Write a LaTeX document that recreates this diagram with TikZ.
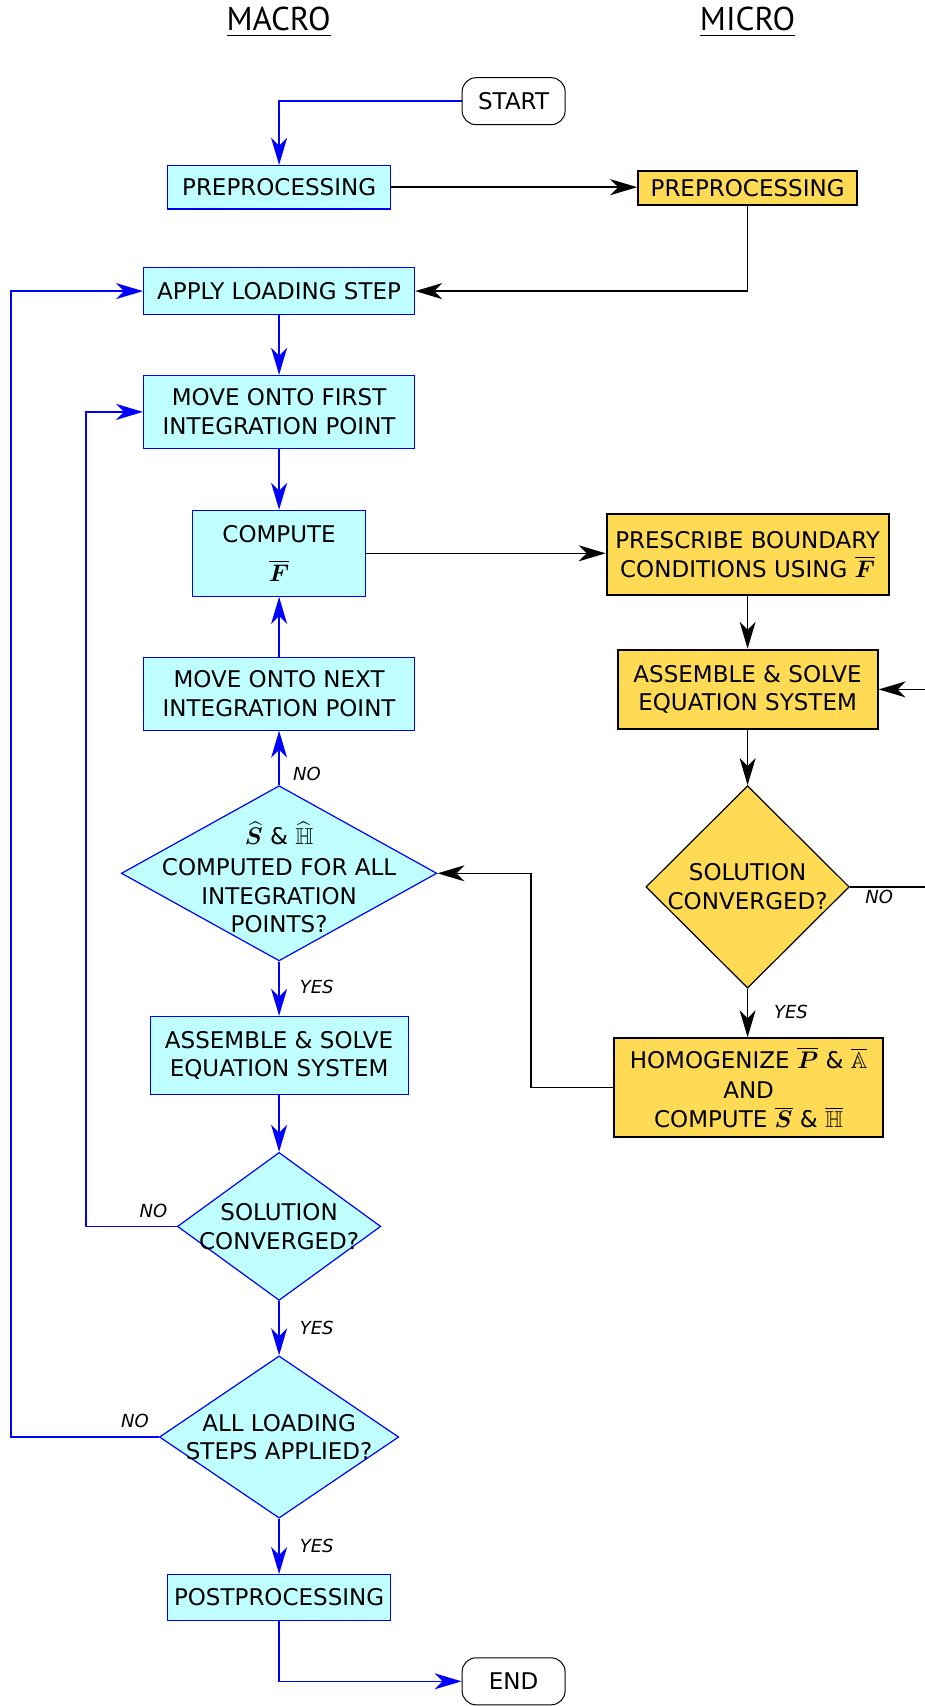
\documentclass[tikz,border=0pt]{standalone}
\usepackage{amsmath,amssymb,bm}
\usepackage{fontspec}
\setmainfont{DejaVu Sans}
\newfontfamily\titlefont{PT Sans}
\usetikzlibrary{arrows.meta,shapes.geometric}
\definecolor{cyanfill}{RGB}{191,255,255}
\definecolor{yellowfill}{RGB}{255,219,85}
\begin{document}
\begin{tikzpicture}[x=0.5pt,y=-0.5pt,
  every node/.style={font=\fontsize{11.5}{14.3}\selectfont, align=center},
  macrobox/.style={draw=blue, fill=cyanfill, line width=0.6pt, inner sep=0pt},
  microbox/.style={draw=black, fill=yellowfill, line width=1pt, inner sep=0pt},
  term/.style={draw=black, rounded corners=7pt, line width=0.5pt, inner sep=0pt, minimum width=51.5pt, minimum height=23.5pt},
  macrodia/.style={diamond, draw=blue, fill=cyanfill, line width=0.6pt, inner sep=0pt},
  microdia/.style={diamond, draw=black, fill=yellowfill, line width=0.6pt, inner sep=0pt},
  tip/.style={-{Stealth[length=13.5pt,width=8pt,inset=4pt]}},
  barr/.style={draw=blue, line width=0.75pt, tip},
  bline/.style={draw=blue, line width=0.75pt},
  karr/.style={draw=black, line width=0.75pt, tip},
  kline/.style={draw=black, line width=0.75pt},
  lab/.style={font=\fontsize{9}{10}\selectfont\itshape},
  title/.style={font=\fontsize{16.5}{18}\titlefont}
]
\useasboundingbox (0,0) rectangle (925,1706);

% titles
\node[title] (tmacro) at (278.6,22) {\underline{MACRO}};
\node[title] (tmicro) at (747.6,22) {\underline{MICRO}};

% nodes
\node[term] (start) at (513.6,101.2) {START};
\node[macrobox, minimum width=111.5pt, minimum height=21.75pt] (pre1) at (279.1,187.2) {PREPROCESSING};
\node[microbox, minimum width=109.4pt, minimum height=16.9pt] (pre2) at (747.6,187.7) {PREPROCESSING};
\node[macrobox, minimum width=135.5pt, minimum height=23.4pt] (apply) at (279.1,291.1) {APPLY LOADING STEP};
\node[macrobox, minimum width=135.5pt, minimum height=36.5pt] (first) at (279.1,411.9) {MOVE ONTO FIRST\\INTEGRATION POINT};
\node[macrobox, minimum width=86.5pt, minimum height=43pt] (comp) at (279.1,553.3) {COMPUTE\\[5pt]$\overline{\bm{F}}$};
\node[microbox, minimum width=140.9pt, minimum height=40.8pt] (pres) at (747.6,554.4) {PRESCRIBE BOUNDARY\\CONDITIONS USING $\overline{\bm{F}}$};
\node[microbox, minimum width=130pt, minimum height=39.7pt] (asm2) at (747.6,689.4) {ASSEMBLE \& SOLVE\\EQUATION SYSTEM};
\node[microdia, minimum width=101.7pt, minimum height=101.2pt] (md) at (747.6,886.9) {};
\node (mdt) at (md) {SOLUTION\\CONVERGED?};
\node[microbox, minimum width=134.4pt, minimum height=49.5pt] (hom) at (748.6,1087.7) {HOMOGENIZE $\overline{\bm{P}}$ \& $\overline{\mathbb{A}}$\\[0.5pt]AND\\[0.5pt]COMPUTE $\overline{\bm{S}}$ \& $\overline{\mathbb{H}}$};
\node[macrobox, minimum width=135.5pt, minimum height=36.5pt] (next) at (279.1,693.7) {MOVE ONTO NEXT\\INTEGRATION POINT};
\node[macrodia, minimum width=157.8pt, minimum height=87.6pt] (bd) at (279.1,873.3) {};
\node (bdt) at ([yshift=-2pt]bd) {$\widehat{\bm{S}}$ \& $\widehat{\mathbb{H}}$\\[1pt]COMPUTED FOR ALL\\INTEGRATION\\POINTS?};
\node[macrobox, minimum width=129pt, minimum height=39.2pt] (asm1) at (279.1,1055.6) {ASSEMBLE \& SOLVE\\EQUATION SYSTEM};
\node[macrodia, minimum width=101.7pt, minimum height=74pt] (sd) at (279.1,1226.4) {};
\node (sdt) at (sd) {SOLUTION\\CONVERGED?};
\node[macrodia, minimum width=119.7pt, minimum height=81.1pt] (ad) at (279.1,1437) {};
\node (adt) at (ad) {ALL LOADING\\STEPS APPLIED?};
\node[macrobox, minimum width=111.5pt, minimum height=22.9pt] (post) at (279.1,1597.5) {POSTPROCESSING};
\node[term] (end) at (513.6,1681.3) {END};

% helper coordinates
\coordinate (redge) at (925,0);
\coordinate (xhom) at (531,0);
\coordinate (xloop1) at (86,0);
\coordinate (xloop2) at (10.9,0);

% connectors
\draw[barr] (start.west) -| (pre1.north);
\draw[karr] (pre1.east) -- (pre1.east -| pre2.west);
\draw[karr] (pre2.south) |- (apply.east);
\draw[barr] (apply.south) -- (first.north);
\draw[barr] (first.south) -- (comp.north);
\draw[karr] (comp.east) -- (comp.east -| pres.west);
\draw[karr] (pres.south) -- (asm2.north);
\draw[karr] (asm2.east -| redge) -- (asm2.east);
\draw[karr] (asm2.south) -- (md.north);
\draw[kline] (md.east) -- (md.east -| redge);
\draw[karr] (md.south) -- (md.south |- hom.north);
\draw[karr] (hom.west) -- (hom.west -| xhom) |- (bd.east);
\draw[barr] (bd.north) -- (next.south);
\draw[barr] (next.north) -- (comp.south);
\draw[barr] (bd.south) -- (asm1.north);
\draw[barr] (asm1.south) -- (sd.north);
\draw[barr] (sd.west) -- (sd.west -| xloop1) |- (first.west);
\draw[barr] (sd.south) -- (ad.north);
\draw[barr] (ad.west) -- (ad.west -| xloop2) |- (apply.west);
\draw[barr] (ad.south) -- (post.north);
\draw[barr] (post.south) |- (end.west);

% labels
\node[lab] (l1) at (879.3,896.7) {NO};
\node[lab] (l2) at (791,1012) {YES};
\node[lab] (l3) at (306.9,773.7) {NO};
\node[lab] (l4) at (316.7,987) {YES};
\node[lab] (l5) at (153.4,1211.2) {NO};
\node[lab] (l6) at (316.7,1327.6) {YES};
\node[lab] (l7) at (134.9,1421.2) {NO};
\node[lab] (l8) at (316.7,1546.3) {YES};
\end{tikzpicture}
\end{document}
